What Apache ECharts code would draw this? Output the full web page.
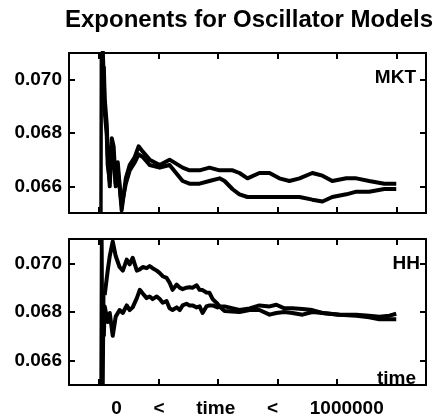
<!DOCTYPE html>
<html>
<head>
<meta charset="utf-8">
<script src="https://cdn.jsdelivr.net/npm/echarts@6/dist/echarts.min.js"></script>
<style>
html,body{margin:0;padding:0;background:#fff;}
#chart{width:433px;height:419px;}
</style>
</head>
<body>
<div id="chart"></div>
<script>
// ---- data ----
const xTicks = [0, 200000, 400000, 600000, 800000, 1000000];
const yTicks = [0.066, 0.068, 0.070];

// MKT panel
const mktTime = [3000, 7000, 10000, 13000, 17000, 20000, 27000, 30000, 37000, 44000, 50000, 57000, 64000, 77000, 91000, 104000, 121000, 134000, 148000, 171000, 205000, 238000, 282000, 305000, 339000, 372000, 406000, 423000, 450000, 473000, 500000, 540000, 574000, 607000, 641000, 675000, 718000, 752000, 785000, 832000, 866000, 909000, 960000, 1000000];
const mktA = [0.0600, 0.0780, 0.0620, 0.0760, 0.0705, 0.0693, 0.0683, 0.0672, 0.0660, 0.0678, 0.0675, 0.0661, 0.0669, 0.0651, 0.0663, 0.0668, 0.0671, 0.0675, 0.0673, 0.0670, 0.0668, 0.0670, 0.0667, 0.0666, 0.0666, 0.0667, 0.0666, 0.0666, 0.0666, 0.0665, 0.0663, 0.0665, 0.0665, 0.0663, 0.0662, 0.0663, 0.0665, 0.0664, 0.0662, 0.0663, 0.0663, 0.0662, 0.0661, 0.0661];
const mktB = [null, null, null, 0.0712, 0.0700, 0.0688, 0.0679, 0.0668, 0.0662, 0.0674, 0.0672, 0.0660, 0.0666, 0.0653, 0.0661, 0.0666, 0.0669, 0.0672, 0.0671, 0.0668, 0.0667, 0.0668, 0.0662, 0.0661, 0.0661, 0.0662, 0.0663, 0.0662, 0.06589, 0.0657, 0.0656, 0.0656, 0.0656, 0.0656, 0.0656, 0.0656, 0.0655, 0.06543, 0.0656, 0.0657, 0.0658, 0.0658, 0.0659, 0.0659];

// HH panel
const hhTime = [3000, 7000, 10000, 13000, 17000, 20000, 30000, 37000, 47000, 57000, 70000, 81000, 94000, 104000, 114000, 128000, 138000, 148000, 161000, 171000, 181000, 195000, 205000, 215000, 228000, 238000, 248000, 262000, 272000, 282000, 295000, 305000, 315000, 329000, 339000, 349000, 362000, 372000, 383000, 389000, 399000, 406000, 423000, 473000, 507000, 540000, 574000, 597000, 624000, 651000, 685000, 718000, 752000, 809000, 866000, 909000, 943000, 977000, 1000000];
const hhA = [0.0600, 0.0740, 0.0620, 0.0730, 0.0640, 0.0687, 0.0697, 0.0703, 0.0709, 0.0703, 0.06985, 0.0697, 0.07015, 0.06996, 0.07023, 0.0697, 0.06975, 0.06985, 0.0698, 0.06989, 0.0698, 0.0697, 0.0696, 0.06947, 0.0694, 0.06921, 0.06891, 0.06913, 0.0690, 0.06894, 0.0690, 0.06902, 0.0690, 0.0691, 0.06891, 0.0689, 0.0688, 0.06879, 0.06853, 0.06853, 0.06834, 0.06823, 0.06823, 0.06808, 0.06815, 0.06827, 0.06823, 0.0683, 0.06815, 0.06815, 0.06812, 0.06808, 0.06796, 0.06789, 0.06789, 0.06785, 0.06781, 0.06785, 0.06793];
const hhB = [null, null, null, 0.0650, 0.0670, 0.06823, 0.06759, 0.06796, 0.06702, 0.06781, 0.06808, 0.06796, 0.06827, 0.06808, 0.06819, 0.06857, 0.06891, 0.06876, 0.06857, 0.06864, 0.06853, 0.06864, 0.06853, 0.06838, 0.06845, 0.06815, 0.06808, 0.06819, 0.06808, 0.06827, 0.06834, 0.06827, 0.06827, 0.06819, 0.06823, 0.06796, 0.06823, 0.06827, 0.06827, 0.06823, 0.06819, 0.06823, 0.06804, 0.0680, 0.06808, 0.06808, 0.06789, 0.06796, 0.0680, 0.06796, 0.06789, 0.0680, 0.06796, 0.06789, 0.06785, 0.06778, 0.0677, 0.0677, 0.0677];

const titleText = 'Exponents for Oscillator Models';
const xName = '0      <      time      <      1000000';
const panelLabels = ['MKT', 'HH', 'time'];

// ---- build ----
const SPIKE = 5; // first points form the thin initial transient
function pairs(ts, vs, from, to) {
  const out = [];
  ts.forEach((t, i) => {
    if (i >= from && i < to && vs[i] != null) out.push([t, vs[i]]);
  });
  return out;
}
const FONT = '"Liberation Sans", Arial, Helvetica, sans-serif';
const axisLine = { show: true, onZero: false, lineStyle: { color: '#000', width: 2 } };
const tickStyle = { color: '#000', width: 2 };

function xAx(grid, pos, extra) {
  return Object.assign({
    gridIndex: grid, type: 'value', position: pos, min: -100000, max: 1100000,
    axisLine: axisLine,
    axisTick: { show: true, inside: true, length: 6, lineStyle: tickStyle, customValues: xTicks },
    axisLabel: { show: false },
    splitLine: { show: false }
  }, extra || {});
}
function yAx(grid, pos, withLabels) {
  return {
    gridIndex: grid, type: 'value', position: pos, min: 0.065, max: 0.071,
    axisLine: axisLine,
    axisTick: { show: true, inside: true, length: 6, lineStyle: tickStyle, customValues: yTicks },
    axisLabel: withLabels ? {
      show: true, customValues: yTicks, margin: 7,
      formatter: v => v.toFixed(3),
      color: '#000', fontFamily: FONT, fontWeight: 'bold', fontSize: 19
    } : { show: false },
    splitLine: { show: false }
  };
}
const lineSeries = (xi, yi, data, w) => ({
  type: 'line', xAxisIndex: xi, yAxisIndex: yi, data: data,
  showSymbol: false, symbol: 'none', clip: true, animation: false,
  lineStyle: { color: '#000', width: w, join: 'round' }
});

const chart = echarts.init(document.getElementById('chart'), null, { renderer: 'canvas' });
chart.setOption({
  backgroundColor: '#fff',
  animation: false,
  title: {
    text: titleText, left: 60, top: 3,
    textStyle: { color: '#000', fontFamily: FONT, fontWeight: 'bold', fontSize: 24 }
  },
  grid: [
    { left: 69, top: 53, width: 357, height: 160 },
    { left: 69, top: 239, width: 357, height: 158 }
  ],
  xAxis: [
    xAx(0, 'bottom'),
    xAx(0, 'top'),
    xAx(1, 'bottom', {
      name: xName, nameLocation: 'middle', nameGap: 14,
      nameTextStyle: { color: '#000', fontFamily: FONT, fontWeight: 'bold', fontSize: 19 }
    }),
    xAx(1, 'top')
  ],
  yAxis: [
    yAx(0, 'left', true),
    yAx(0, 'right', false),
    yAx(1, 'left', true),
    yAx(1, 'right', false)
  ],
  series: [
    lineSeries(0, 0, pairs(mktTime, mktA, 0, SPIKE + 1), 1.5),
    lineSeries(0, 0, pairs(mktTime, mktA, SPIKE - 1, 1e9), 4),
    lineSeries(0, 0, pairs(mktTime, mktB, 0, 1e9), 4),
    lineSeries(2, 2, pairs(hhTime, hhA, 0, SPIKE + 1), 1.5),
    lineSeries(2, 2, pairs(hhTime, hhA, SPIKE, 1e9), 4),
    lineSeries(2, 2, pairs(hhTime, hhB, 0, SPIKE), 1.5),
    lineSeries(2, 2, pairs(hhTime, hhB, SPIKE - 1, 1e9), 4)
  ],
  graphic: [
    { type: 'text', x: 416, y: 78, style: { text: panelLabels[0], align: 'right', verticalAlign: 'middle', fill: '#000', font: 'bold 19px ' + FONT } },
    { type: 'text', x: 420, y: 264, style: { text: panelLabels[1], align: 'right', verticalAlign: 'middle', fill: '#000', font: 'bold 19px ' + FONT } },
    { type: 'text', x: 416, y: 379, style: { text: panelLabels[2], align: 'right', verticalAlign: 'middle', fill: '#000', font: 'bold 19px ' + FONT } }
  ]
});
</script>
</body>
</html>
